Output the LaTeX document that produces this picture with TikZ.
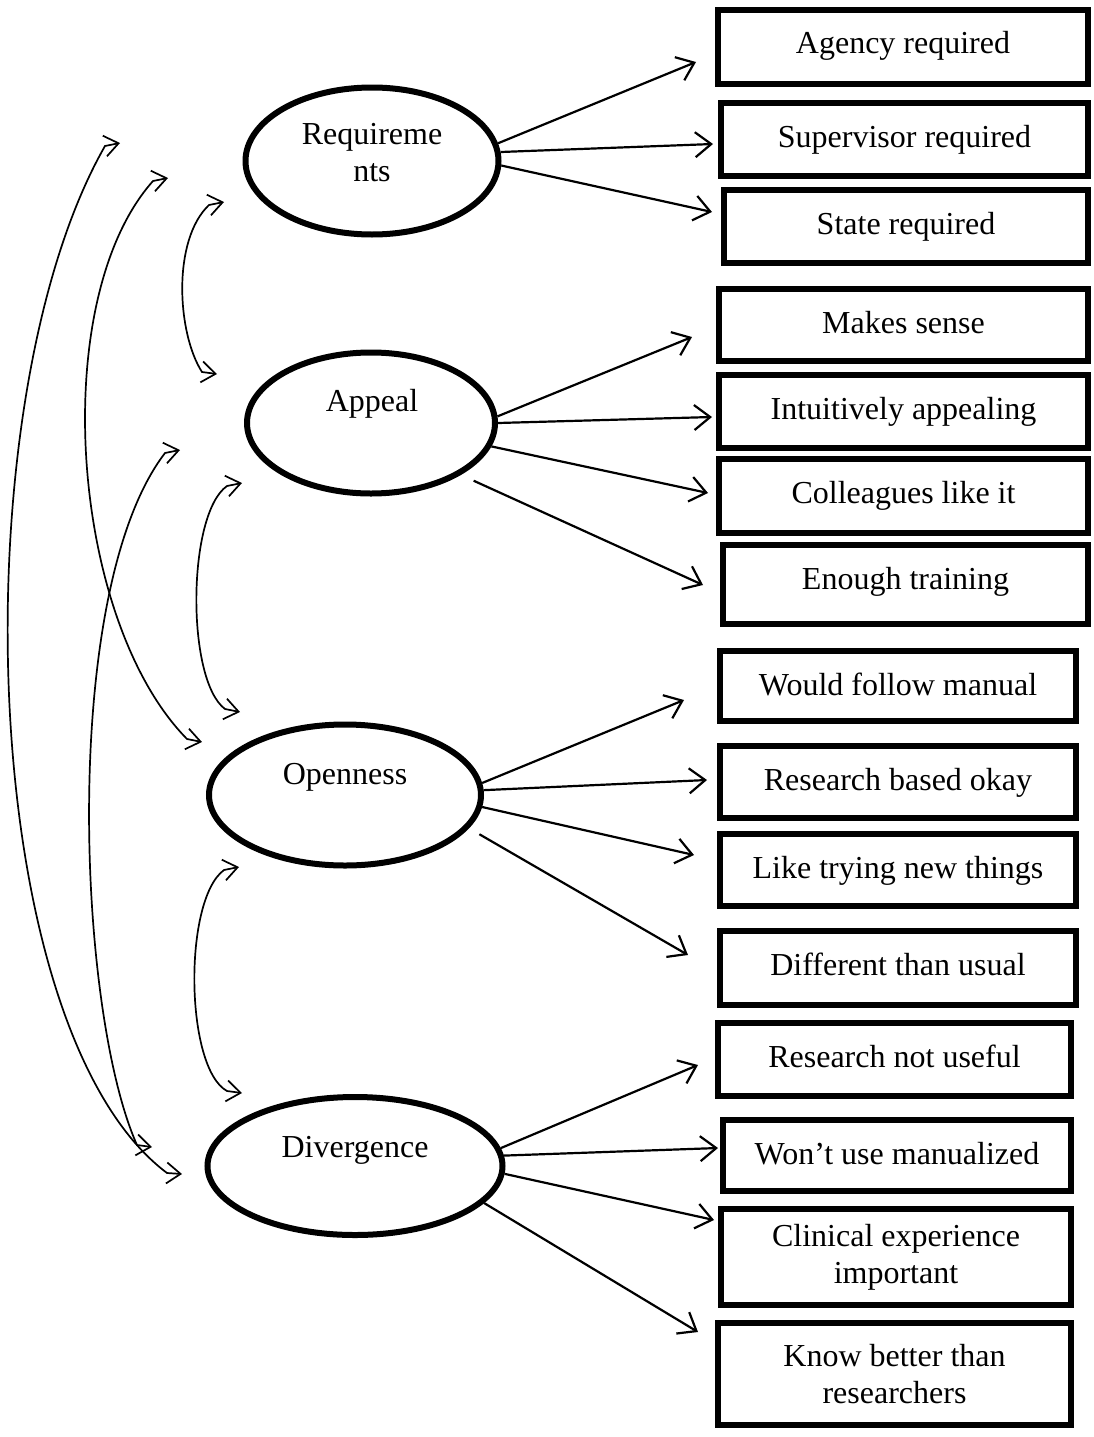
\documentclass[tikz,border=0pt]{standalone}
\usepackage{fontspec}
\setmainfont{Liberation Serif}
\usetikzlibrary{arrows.meta,shapes.geometric}
\begin{document}
\begin{tikzpicture}[x=1pt,y=-1pt,
  every node/.style={font=\fontsize{32}{37}\selectfont},
  latent/.style={draw, ellipse, line width=6pt, inner sep=0pt},
  lbl/.style={inner sep=0pt, align=center},
  item/.style={draw, rectangle, line width=5.5pt, align=center, inner sep=0pt, text height=22pt},
  item2/.style={draw, rectangle, line width=5.5pt, align=center, inner sep=0pt},
  ld/.style={-{Straight Barb[length=16pt,width=25pt]}, line width=2.2pt},
  cov/.style={{Straight Barb[length=14pt,width=21pt]}-{Straight Barb[length=14pt,width=21pt]}, line width=1.7pt},
]
\useasboundingbox (0,0) rectangle (1094,1437);

% latent variables
\node[latent, minimum width=253pt, minimum height=147pt] (req) at (372,161) {};
\node[latent, minimum width=248pt, minimum height=141pt] (app) at (371,423) {};
\node[latent, minimum width=272pt, minimum height=141pt] (opn) at (345,795) {};
\node[latent, minimum width=295pt, minimum height=138pt] (div) at (355,1166) {};
\node[lbl] (reqL) at (372,153) {Requireme\\nts};
\node[lbl] (appL) at (372,404) {Appeal};
\node[lbl] (opnL) at (345,777) {Openness};
\node[lbl] (divL) at (355,1150) {Divergence};

% indicators
\node[item, minimum width=370pt, minimum height=74pt, text depth=8pt] (b1) at (903,47) {Agency required};
\node[item, minimum width=367pt, minimum height=73pt, text depth=7pt] (b2) at (904.5,139.5) {Supervisor required};
\node[item, minimum width=364pt, minimum height=73pt, text depth=7pt] (b3) at (906,226.5) {State required};
\node[item, minimum width=369pt, minimum height=72pt, text depth=6pt] (b4) at (903.5,325) {Makes sense};
\node[item, minimum width=369pt, minimum height=73pt, text depth=7pt] (b5) at (903.5,411.5) {Intuitively appealing};
\node[item, minimum width=369pt, minimum height=74pt, text depth=8pt] (b6) at (903.5,496) {Colleagues like it};
\node[item, minimum width=365pt, minimum height=79pt, text depth=13pt] (b7) at (905.5,584.5) {Enough training};
\node[item, minimum width=356pt, minimum height=70pt, text depth=4pt] (b8) at (898,686) {Would follow manual};
\node[item, minimum width=356pt, minimum height=72pt, text depth=6pt] (b9) at (898,782) {Research based okay};
\node[item, minimum width=356pt, minimum height=72pt, text depth=6pt] (b10) at (898,870) {Like trying new things};
\node[item, minimum width=356pt, minimum height=74pt, text depth=8pt] (b11) at (898,968) {Different than usual};
\node[item, minimum width=353pt, minimum height=73pt, text depth=7pt] (b12) at (894.5,1059.5) {Research not useful};
\node[item, minimum width=348pt, minimum height=71pt, text depth=5pt] (b13) at (897,1155.5) {Won’t use manualized};
\node[item2, minimum width=350pt, minimum height=96pt] (b14) at (896,1257) {Clinical experience\\important};
\node[item2, minimum width=353pt, minimum height=102pt] (b15) at (894.5,1374) {Know better than\\researchers};

% arrow tips (free ends)
\coordinate (t1) at (696,62);
\coordinate (t2) at (713,144);
\coordinate (t3) at (712,212);
\coordinate (t4) at (692,337);
\coordinate (t5) at (712,417);
\coordinate (t6) at (708,493);
\coordinate (t7) at (703,585);
\coordinate (t8) at (684,700);
\coordinate (t9) at (707,780);
\coordinate (t10) at (694,855);
\coordinate (t11) at (688,955);
\coordinate (t12) at (698,1065);
\coordinate (t13) at (718,1148);
\coordinate (t14) at (714,1220);
\coordinate (t15) at (698,1332);

\draw[ld] (req.8) -- (t1);
\draw[ld] (req.4) -- (t2);
\draw[ld] (req.-2) -- (t3);
\draw[ld] (app.3) -- (t4);
\draw[ld] (app.0) -- (t5);
\draw[ld] (app.-11) -- (t6);
\draw[ld, shorten <=14pt] (app.-30) -- (t7);
\draw[ld] (opn.5) -- (t8);
\draw[ld] (opn.2) -- (t9);
\draw[ld] (opn.-5) -- (t10);
\draw[ld, shorten <=12pt] (opn.-15) -- (t11);
\draw[ld] (div.7) -- (t12);
\draw[ld] (div.4) -- (t13);
\draw[ld] (div.-3) -- (t14);
\draw[ld] (div.-16) -- (t15);

% covariance arcs
\coordinate (ra1) at (224,202);  \coordinate (ra2) at (217,374);
\coordinate (ro1) at (168,178);  \coordinate (ro2) at (202,742);
\coordinate (rd1) at (120,143);  \coordinate (rd2) at (182,1174);
\coordinate (ao1) at (242,483);  \coordinate (ao2) at (240,712);
\coordinate (ad1) at (180,450);  \coordinate (ad2) at (152,1147);
\coordinate (od1) at (239,867);  \coordinate (od2) at (242,1093);

\draw[cov] (ra1) -- ++(-15,3) .. controls (172,240) and (177,333) .. ([shift={(-15,-2)}]ra2) -- (ra2);
\draw[cov] (ro1) -- ++(-15,3) .. controls (47,300) and (70,620) .. ([shift={(-15,-3)}]ro2) -- (ro2);
\draw[cov] (rd1) -- ++(-15,3) .. controls (-40,400) and (-26,1028) .. ([shift={(-15,-1)}]rd2) -- (rd2);
\draw[cov] (ao1) -- ++(-15,3) .. controls (187,514) and (186,680) .. ([shift={(-15,-3)}]ao2) -- (ao2);
\draw[cov] (ad1) -- ++(-15,3) .. controls (60,590) and (77,1011) .. ([shift={(-15,-2)}]ad2) -- (ad2);
\draw[cov] (od1) -- ++(-15,3) .. controls (183,900) and (185,1068) .. ([shift={(-15,-2)}]od2) -- (od2);
\end{tikzpicture}
\end{document}
